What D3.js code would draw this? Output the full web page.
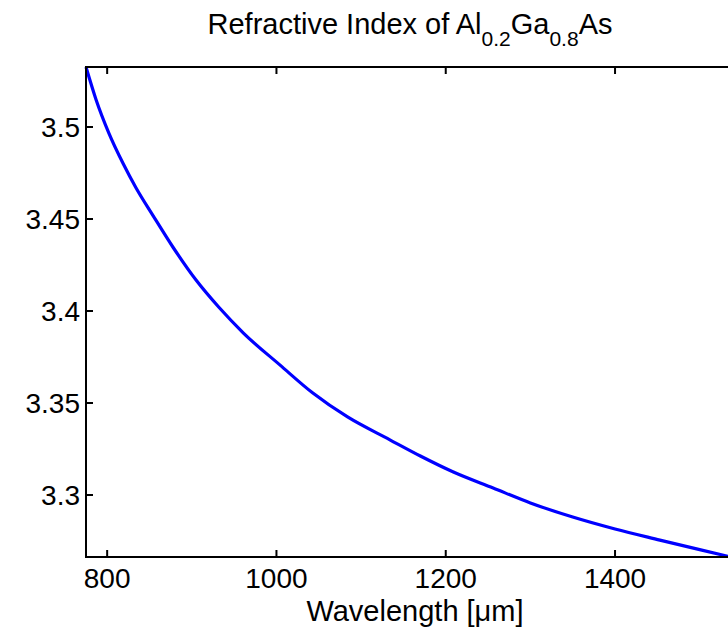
<!DOCTYPE html>
<html>
<head>
<meta charset="utf-8">
<script src="https://cdn.jsdelivr.net/npm/d3@7"></script>
<style>
  body { margin: 0; background: #fff; }
  svg { display: block; font-family: "Liberation Sans", Arial, sans-serif; }
</style>
</head>
<body>
<svg id="chart" width="728" height="629"></svg>
<script>
// wavelength (as labelled on the axis) and refractive index
const wavelength = [775, 787, 802, 819, 834, 854, 878, 905, 932, 961, 1004,
  1043, 1084, 1134, 1170, 1209, 1256, 1300, 1350, 1400, 1453, 1500, 1537];
const refIndex = [3.5326, 3.5147, 3.4967, 3.4800, 3.4670, 3.4520, 3.4345, 3.4168,
  3.4020, 3.3880, 3.3707, 3.3554, 3.3424, 3.3300, 3.3212, 3.3125, 3.3038,
  3.2957, 3.2880, 3.2815, 3.2755, 3.2703, 3.2663];
const xTicks = [800, 1000, 1200, 1400];
const yTicks = [3.3, 3.35, 3.4, 3.45, 3.5];

const data = wavelength.map((w, i) => ({ w: w, n: refIndex[i] }));

const margin = { top: 67, left: 86, bottom: 557, right: 731 };

const svg = d3.select("#chart");

const x = d3.scaleLinear()
  .domain([775, 1537])
  .range([margin.left, margin.right]);

const y = d3.scaleLinear()
  .domain([3.2663, 3.5326])
  .range([margin.bottom, margin.top]);

// curve
const line = d3.line()
  .x((d) => x(d.w))
  .y((d) => y(d.n))
  .curve(d3.curveMonotoneX);

svg.append("path")
  .datum(data)
  .attr("d", line)
  .attr("fill", "none")
  .attr("stroke", "#0000ff")
  .attr("stroke-width", 3.2);

// inward ticks
const tickLen = 7;
svg.append("g")
  .selectAll("line")
  .data(xTicks)
  .join("line")
  .attr("x1", (d) => x(d)).attr("x2", (d) => x(d))
  .attr("y1", margin.bottom).attr("y2", margin.bottom - tickLen)
  .attr("stroke", "#000").attr("stroke-width", 2);

svg.append("g")
  .selectAll("line")
  .data(xTicks)
  .join("line")
  .attr("x1", (d) => x(d)).attr("x2", (d) => x(d))
  .attr("y1", margin.top).attr("y2", margin.top + tickLen)
  .attr("stroke", "#000").attr("stroke-width", 2);

svg.append("g")
  .selectAll("line")
  .data(yTicks)
  .join("line")
  .attr("x1", margin.left).attr("x2", margin.left + tickLen)
  .attr("y1", (d) => y(d)).attr("y2", (d) => y(d))
  .attr("stroke", "#000").attr("stroke-width", 2);

// frame
svg.append("rect")
  .attr("x", margin.left)
  .attr("y", margin.top)
  .attr("width", margin.right - margin.left)
  .attr("height", margin.bottom - margin.top)
  .attr("fill", "none")
  .attr("stroke", "#000")
  .attr("stroke-width", 2);

// tick labels
svg.append("g")
  .selectAll("text")
  .data(xTicks)
  .join("text")
  .attr("x", (d) => x(d))
  .attr("y", 588)
  .attr("text-anchor", "middle")
  .style("font-size", "28px")
  .text((d) => d);

svg.append("g")
  .selectAll("text")
  .data(yTicks)
  .join("text")
  .attr("x", 80)
  .attr("y", (d) => y(d) + 10)
  .attr("text-anchor", "end")
  .style("font-size", "28px")
  .text((d) => d);

// x label
svg.append("text")
  .attr("x", 415)
  .attr("y", 621)
  .attr("text-anchor", "middle")
  .style("font-size", "29px")
  .text("Wavelength [\u03bcm]");

// title with subscripts
const title = svg.append("text")
  .attr("x", 410)
  .attr("y", 34)
  .attr("text-anchor", "middle")
  .style("font-size", "29px");
title.append("tspan").text("Refractive Index of Al");
title.append("tspan").attr("dy", 12).style("font-size", "21px").text("0.2");
title.append("tspan").attr("dy", -12).text("Ga");
title.append("tspan").attr("dy", 12).style("font-size", "21px").text("0.8");
title.append("tspan").attr("dy", -12).text("As");
</script>
</body>
</html>
